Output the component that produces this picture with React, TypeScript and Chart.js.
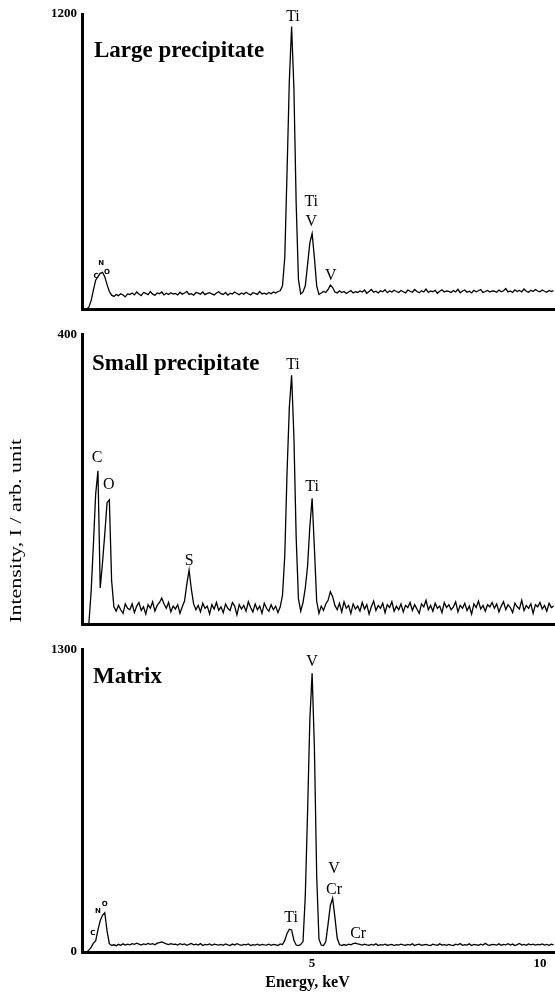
import React, { useEffect, useRef } from "react";
import { Chart, registerables } from "chart.js";
Chart.register(...registerables);

const SERIF = "'Liberation Serif', 'Times New Roman', serif";

// Energy channels (keV)
const energies = [
  0.00,0.05,0.10,0.15,0.20,0.25,0.30,0.35,0.40,0.45,0.50,0.55,0.60,0.65,0.70,0.75,0.80,0.85,0.90,0.95,
  1.00,1.05,1.10,1.15,1.20,1.25,1.30,1.35,1.40,1.45,1.50,1.55,1.60,1.65,1.70,1.75,1.80,1.85,1.90,1.95,
  2.00,2.05,2.10,2.15,2.20,2.25,2.30,2.35,2.40,2.45,2.50,2.55,2.60,2.65,2.70,2.75,2.80,2.85,2.90,2.95,
  3.00,3.05,3.10,3.15,3.20,3.25,3.30,3.35,3.40,3.45,3.50,3.55,3.60,3.65,3.70,3.75,3.80,3.85,3.90,3.95,
  4.00,4.05,4.10,4.15,4.20,4.25,4.30,4.35,4.40,4.45,4.50,4.55,4.60,4.65,4.70,4.75,4.80,4.85,4.90,4.95,
  5.00,5.05,5.10,5.15,5.20,5.25,5.30,5.35,5.40,5.45,5.50,5.55,5.60,5.65,5.70,5.75,5.80,5.85,5.90,5.95,
  6.00,6.05,6.10,6.15,6.20,6.25,6.30,6.35,6.40,6.45,6.50,6.55,6.60,6.65,6.70,6.75,6.80,6.85,6.90,6.95,
  7.00,7.05,7.10,7.15,7.20,7.25,7.30,7.35,7.40,7.45,7.50,7.55,7.60,7.65,7.70,7.75,7.80,7.85,7.90,7.95,
  8.00,8.05,8.10,8.15,8.20,8.25,8.30,8.35,8.40,8.45,8.50,8.55,8.60,8.65,8.70,8.75,8.80,8.85,8.90,8.95,
  9.00,9.05,9.10,9.15,9.20,9.25,9.30,9.35,9.40,9.45,9.50,9.55,9.60,9.65,9.70,9.75,9.80,9.85,9.90,9.95,
  10.00,10.05,10.10,10.15,10.20,10.25,10.30,
];

const largeCounts = [
  0,0,8,35,78,118,132,146,150,132,100,72,57,52,60,55,63,58,50,62,
  60,66,58,70,62,55,68,64,59,72,61,57,66,63,70,58,65,60,67,62,
  64,58,69,61,66,72,60,63,57,68,65,61,70,59,64,67,62,58,66,71,
  63,60,68,57,65,62,70,64,59,66,61,69,63,58,67,64,60,72,62,65,
  61,68,63,70,66,72,75,95,210,560,930,1149,900,430,120,62,70,95,180,270,
  307,210,95,60,66,72,68,80,98,88,70,66,75,68,72,64,70,76,66,71,
  68,74,70,78,65,72,80,69,73,66,75,71,79,67,74,70,77,72,68,76,
  71,66,78,73,69,80,72,67,75,70,82,68,74,71,77,65,73,79,70,74,
  72,68,76,70,81,67,74,78,69,73,66,77,71,75,80,68,72,76,70,74,
  73,69,78,71,75,84,70,74,68,79,72,76,70,82,73,69,77,72,80,74,
  71,78,73,69,76,72,75,
];

const smallCounts = [
  0,0,0,45,110,180,212,50,85,125,168,172,60,24,18,26,20,15,28,22,
  20,28,16,25,30,19,24,14,27,22,31,18,26,30,36,28,22,30,17,25,
  21,27,15,24,32,55,75,48,28,20,26,17,29,22,25,14,27,21,30,19,
  24,16,28,22,19,30,25,13,27,21,26,18,31,23,17,28,20,25,15,29,
  22,18,27,20,25,16,24,40,95,210,300,344,260,120,35,18,30,50,80,135,
  174,105,32,15,25,19,28,33,45,38,26,20,29,17,31,22,26,15,28,21,
  25,18,30,21,27,14,24,32,19,26,22,29,16,27,23,31,18,25,20,28,
  17,26,23,30,19,27,21,15,28,24,33,20,26,18,29,22,25,16,30,23,
  27,20,24,31,17,26,22,29,19,25,14,28,23,32,21,26,18,27,24,30,
  22,28,17,25,31,20,27,23,16,29,24,21,33,19,26,22,28,15,27,24,
  30,21,26,18,29,23,25,
];

const matrixCounts = [
  0,0,8,20,38,48,95,135,158,169,90,36,28,31,27,33,29,35,30,34,
  31,36,33,38,34,30,35,32,37,33,36,31,38,40,43,39,35,32,36,33,
  34,30,36,32,35,29,33,37,31,34,30,36,28,33,31,35,29,34,32,30,
  33,29,35,31,28,34,30,36,32,29,33,31,35,28,32,30,34,29,33,31,
  30,34,29,33,31,28,35,32,50,80,98,95,50,30,28,32,45,240,600,1000,
  1199,880,330,55,30,28,45,120,200,232,150,60,32,28,32,29,34,31,36,38,
  35,33,30,34,31,29,33,30,35,28,32,30,34,29,31,33,28,32,30,34,
  31,29,33,30,35,28,32,34,29,31,33,30,28,34,31,29,35,30,32,29,
  33,30,28,34,31,36,29,32,30,35,28,33,31,29,34,30,37,31,29,33,
  32,30,35,29,33,31,36,30,34,28,32,37,30,33,29,35,31,34,30,33,
  31,35,30,33,29,34,31,
];

const xTickValues = [5, 10];
const largeYTicks = [1200];
const smallYTicks = [400];
const matrixYTicks = [0, 1300];

const LBL = `16px ${SERIF}`;
const TINY = `bold 7px 'DejaVu Sans', sans-serif`;

// element peak labels: text, energy (keV), intensity position
const largeLabels = [
  { t: "Ti", e: 4.58, v: 1190, f: LBL },
  { t: "Ti", e: 4.98, v: 435, f: LBL },
  { t: "V", e: 4.98, v: 357, f: LBL },
  { t: "V", e: 5.41, v: 137, f: LBL },
  { t: "C", e: 0.26, v: 133, f: TINY },
  { t: "N", e: 0.37, v: 188, f: TINY },
  { t: "O", e: 0.5, v: 149, f: TINY },
];
const smallLabels = [
  { t: "Ti", e: 4.58, v: 359, f: LBL },
  { t: "Ti", e: 5.0, v: 190, f: LBL },
  { t: "C", e: 0.28, v: 230, f: LBL },
  { t: "O", e: 0.54, v: 192, f: LBL },
  { t: "S", e: 2.3, v: 87, f: LBL },
];
const matrixLabels = [
  { t: "V", e: 5.0, v: 1249, f: LBL },
  { t: "V", e: 5.48, v: 358, f: LBL },
  { t: "Cr", e: 5.48, v: 269, f: LBL },
  { t: "Ti", e: 4.54, v: 147, f: LBL },
  { t: "Cr", e: 6.01, v: 80, f: LBL },
  { t: "C", e: 0.19, v: 80, f: TINY },
  { t: "N", e: 0.3, v: 177, f: TINY },
  { t: "O", e: 0.45, v: 206, f: TINY },
];

type Lbl = { t: string; e: number; v: number; f: string };
type PanelCfg = {
  counts: number[];
  yMax: number;
  yTicks: number[];
  title: string;
  titleDx: number;
  titleBase: number;
  labels: Lbl[];
  height: number;
  padTop: number;
  padBottom: number;
  xAxisHeight: number;
  showXTicks: boolean;
  xTitle?: string;
  yTitle?: string;
};

const panels: PanelCfg[] = [
  {
    counts: largeCounts, yMax: 1200, yTicks: largeYTicks, title: "Large precipitate",
    titleDx: 12, titleBase: 43, labels: largeLabels, height: 322, padTop: 14, padBottom: 2,
    xAxisHeight: 0, showXTicks: false,
  },
  {
    counts: smallCounts, yMax: 400, yTicks: smallYTicks, title: "Small precipitate",
    titleDx: 10, titleBase: 35, labels: smallLabels, height: 315, padTop: 2, padBottom: 2,
    xAxisHeight: 0, showXTicks: false, yTitle: "Intensity, I / arb. unit",
  },
  {
    counts: matrixCounts, yMax: 1300, yTicks: matrixYTicks, title: "Matrix",
    titleDx: 11, titleBase: 33, labels: matrixLabels, height: 357, padTop: 6, padBottom: 0,
    xAxisHeight: 42, showXTicks: true, xTitle: "Energy, keV",
  },
];

function makeAnnot(cfg: PanelCfg) {
  return {
    id: "annot",
    afterDatasetsDraw(chart: any) {
      const { ctx, chartArea } = chart;
      const x = chart.scales.x;
      const y = chart.scales.y;
      ctx.save();
      ctx.fillStyle = "#000";
      ctx.textAlign = "left";
      ctx.textBaseline = "alphabetic";
      ctx.font = `bold 23px ${SERIF}`;
      ctx.fillText(cfg.title, chartArea.left + cfg.titleDx, chartArea.top + cfg.titleBase);
      ctx.textAlign = "center";
      ctx.textBaseline = "middle";
      for (const l of cfg.labels) {
        ctx.font = l.f;
        ctx.fillText(l.t, x.getPixelForValue(l.e), y.getPixelForValue(l.v));
      }
      if (cfg.xTitle) {
        ctx.font = `bold 16px ${SERIF}`;
        ctx.fillText(cfg.xTitle, (chartArea.left + chartArea.right) / 2 - 11, chartArea.bottom + 31);
      }
      if (cfg.yTitle) {
        ctx.font = `17px ${SERIF}`;
        const w = ctx.measureText(cfg.yTitle).width;
        ctx.translate(chartArea.left - 65, chartArea.top + 196);
        ctx.rotate(-Math.PI / 2);
        ctx.scale(184 / w, 1);
        ctx.fillText(cfg.yTitle, 0, 0);
      }
      ctx.restore();
    },
  };
}

function Panel({ cfg }: { cfg: PanelCfg }) {
  const ref = useRef<HTMLCanvasElement>(null);
  useEffect(() => {
    const data = energies.map((e, i) => ({ x: e, y: cfg.counts[i] }));
    const chart = new Chart(ref.current!, {
      type: "line",
      data: {
        datasets: [
          {
            data,
            borderColor: "#000",
            borderWidth: 1.3,
            pointRadius: 0,
            tension: 0,
            fill: false,
          },
        ],
      },
      options: {
        animation: false,
        responsive: false,
        events: [],
        layout: { padding: { top: cfg.padTop, bottom: cfg.padBottom, left: 0, right: 0 } },
        plugins: { legend: { display: false }, tooltip: { enabled: false } },
        scales: {
          x: {
            type: "linear",
            min: -0.05,
            max: 10.33,
            grid: { display: false, drawTicks: false },
            border: { display: true, width: 3, color: "#000" },
            ticks: {
              display: cfg.showXTicks,
              padding: 4,
              color: "#000",
              font: { family: SERIF, size: 13, weight: "bold" },
              callback: (v: any) => String(v),
            },
            afterBuildTicks: (s: any) => {
              s.ticks = xTickValues.map((v) => ({ value: v }));
            },
            afterFit: (s: any) => {
              s.height = cfg.xAxisHeight;
            },
          },
          y: {
            type: "linear",
            min: 0,
            max: cfg.yMax,
            grid: { display: false, drawTicks: false },
            border: { display: true, width: 3, color: "#000" },
            ticks: {
              padding: 5,
              color: "#000",
              font: { family: SERIF, size: 13, weight: "bold" },
              callback: (v: any) => String(v),
            },
            afterBuildTicks: (s: any) => {
              s.ticks = cfg.yTicks.map((v) => ({ value: v }));
            },
            afterFit: (s: any) => {
              s.width = 82;
            },
          },
        },
      } as any,
      plugins: [makeAnnot(cfg)],
    });
    return () => chart.destroy();
  }, []);
  return <canvas ref={ref} width={555} height={cfg.height} style={{ display: "block" }} />;
}

export default function App() {
  return (
    <div style={{ position: "absolute", left: 0, top: 0, width: 555, height: 994, background: "#fff" }}>
      {panels.map((p, i) => (
        <Panel key={i} cfg={p} />
      ))}
    </div>
  );
}
